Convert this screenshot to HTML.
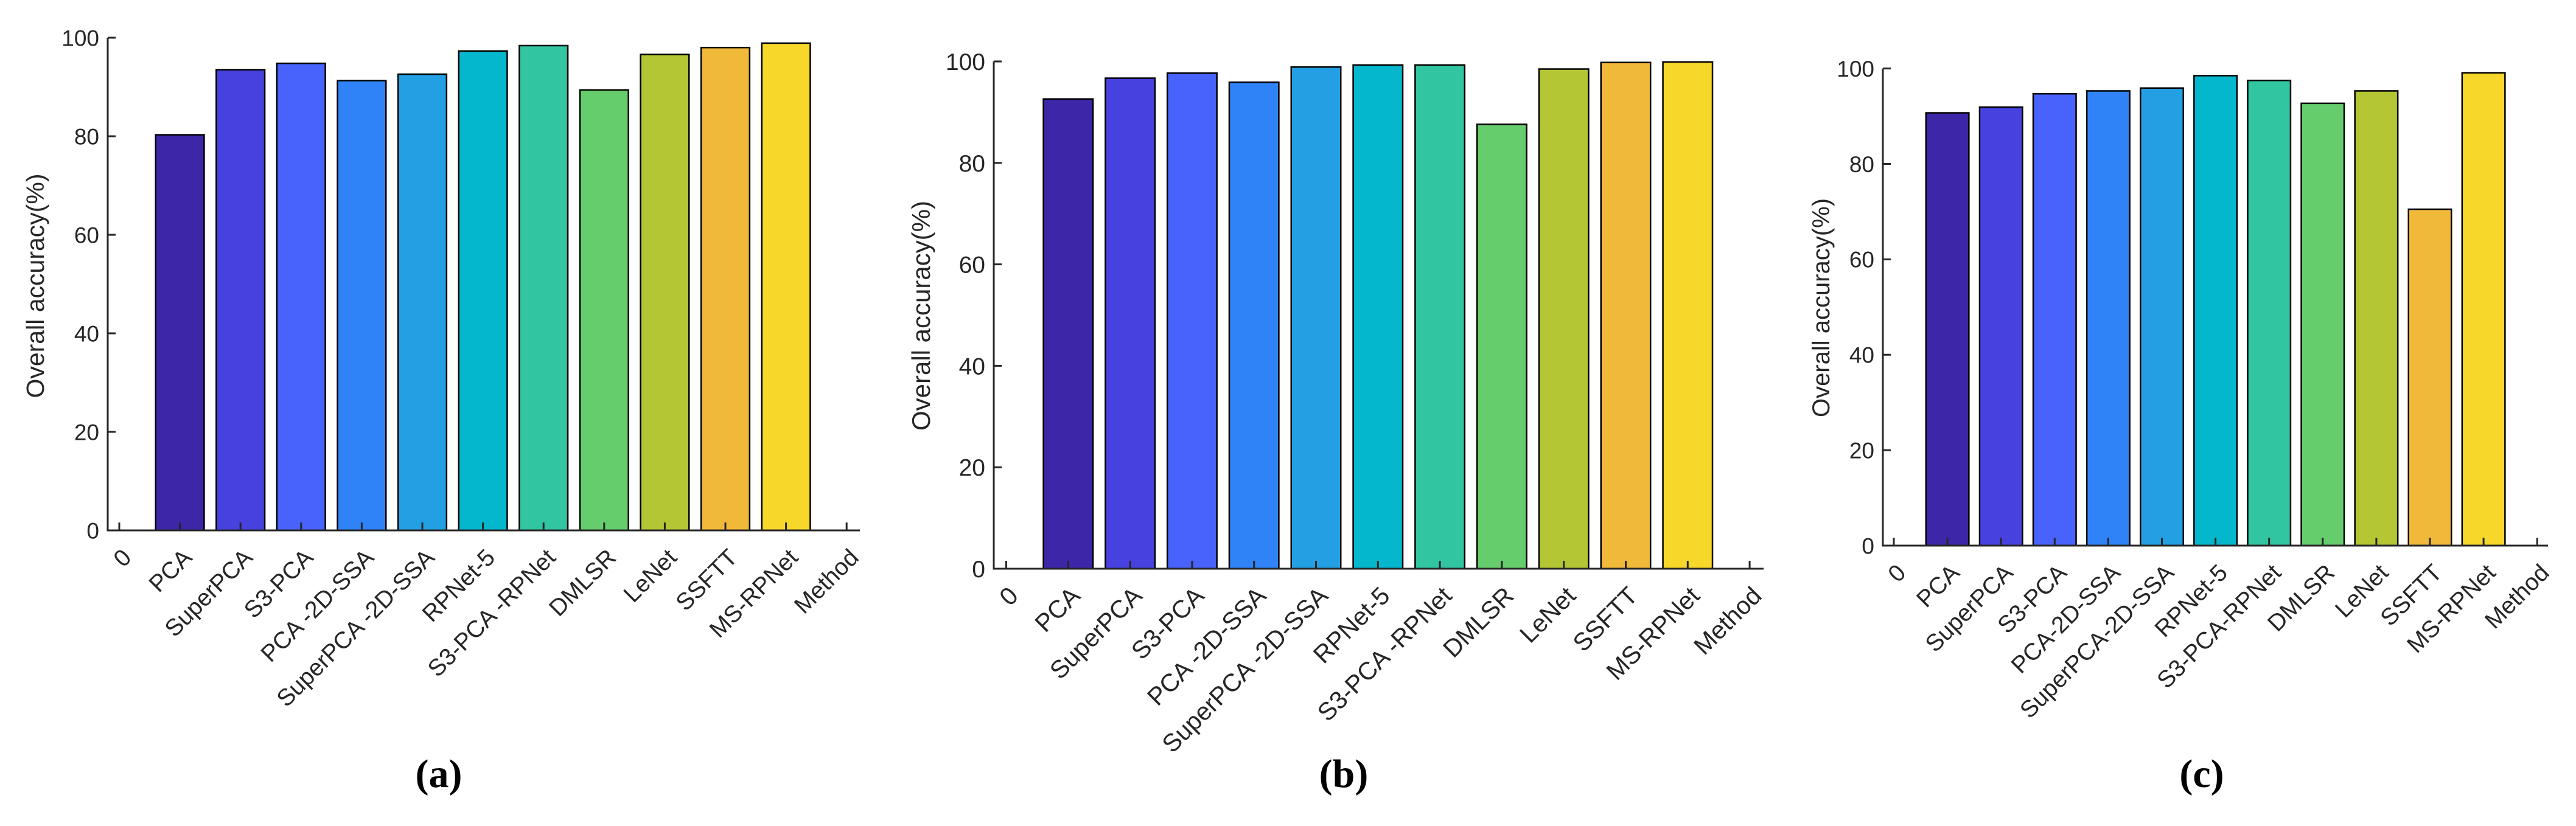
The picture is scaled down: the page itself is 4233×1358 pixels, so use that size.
<!DOCTYPE html>
<html><head><meta charset="utf-8">
<style>
html,body{margin:0;padding:0;background:#fff;}
svg{display:block;}
text{font-family:"Liberation Sans",Arial,sans-serif;fill:#262626;}
.cap{font-family:"Liberation Serif",serif;font-weight:bold;fill:#000;}
</style></head>
<body>
<svg id="fig" width="4233" height="1358" viewBox="0 0 4233 1358" xmlns="http://www.w3.org/2000/svg"></svg>
<script>
const categories = ["0","PCA","SuperPCA","S3-PCA","PCA -2D-SSA","SuperPCA -2D-SSA","RPNet-5","S3-PCA -RPNet","DMLSR","LeNet","SSFTT","MS-RPNet","Method"];
const categoriesC = ["0","PCA","SuperPCA","S3-PCA","PCA-2D-SSA","SuperPCA-2D-SSA","RPNet-5","S3-PCA-RPNet","DMLSR","LeNet","SSFTT","MS-RPNet","Method"];
const valuesA = [80.3,93.5,94.8,91.3,92.6,97.3,98.4,89.4,96.6,98.0,98.9];
const valuesB = [92.6,96.7,97.7,95.9,98.9,99.3,99.3,87.6,98.5,99.8,99.9];
const valuesC = [90.7,91.9,94.7,95.3,95.9,98.5,97.5,92.7,95.3,70.5,99.1];
const yTicks = [0,20,40,60,80,100];
const colors = ["#3e26a8","#4741e0","#4863fb","#2f83f7","#23a0e3","#04b7cd","#31c5a2","#66cd6c","#b5c634","#f1b93a","#f7d72a"];

const NS="http://www.w3.org/2000/svg";
const svg=document.getElementById('fig');
function mk(tag,attrs,parent){const e=document.createElementNS(NS,tag);for(const k in attrs)e.setAttribute(k,attrs[k]);(parent||svg).appendChild(e);return e;}

function chart(cfg){
  const g=mk('g',{});
  
  
  const xs=v=>cfg.x0+v*cfg.pitch;
  const ys=v=>cfg.y0-(v/100)*(cfg.y0-cfg.y100);
  const bw=cfg.pitch*0.8;
  cfg.values.forEach((v,i)=>{
    const r=mk('rect',{x:xs(i+1)-bw/2,y:ys(v),width:bw,height:ys(0)-ys(v),fill:colors[i],stroke:'#000','stroke-width':2.5},g);
    
    
  });
  const xa=mk('line',{x1:cfg.axL,y1:cfg.y0,x2:cfg.axR,y2:cfg.y0,stroke:'#262626','stroke-width':3},g);
  
  
  const ya=mk('line',{x1:cfg.axL,y1:cfg.y0+1.5,x2:cfg.axL,y2:cfg.y100,stroke:'#262626','stroke-width':3},g);
  
  
  yTicks.forEach(t=>{
    mk('line',{x1:cfg.axL,y1:ys(t),x2:cfg.axL+13,y2:ys(t),stroke:'#262626','stroke-width':3},g);
    const tx=mk('text',{x:cfg.axL-14,y:ys(t)+cfg.fs*0.36,'text-anchor':'end','font-size':cfg.fs},g);
    tx.textContent=t;
    
    
  });
  cfg.cats.forEach((c,i)=>{
    const x=xs(i);
    mk('line',{x1:x,y1:cfg.y0,x2:x,y2:cfg.y0-13,stroke:'#262626','stroke-width':3},g);
    const ax=x+22, ay=cfg.y0+47;
    const tx=mk('text',{x:ax,y:ay,'text-anchor':'end','font-size':cfg.lfs,transform:`rotate(-45 ${ax} ${ay})`},g);
    if(cfg.clip) tx.setAttribute('clip-path','url(#clipB)');
    tx.textContent=c;
    
    
  });
  const yl=mk('text',{x:cfg.ylx,y:cfg.yly,'text-anchor':'middle','font-size':cfg.yfs,transform:`rotate(-90 ${cfg.ylx} ${cfg.yly})`},g);
  yl.textContent='Overall accuracy(%)';
  
  
  const cap=mk('text',{x:cfg.capx,y:1294,'text-anchor':'middle','font-size':66,class:'cap'},g);
  cap.textContent='('+cfg.id+')';
  
  
}
const defs=mk('defs',{});
const cp=mk('clipPath',{id:'clipB'},defs);
mk('rect',{x:1400,y:0,width:1600,height:1177},cp);

chart({id:'a',values:valuesA,cats:categories,x0:196,pitch:99.6,y0:872,y100:62,axL:177,axR:1413,fs:37,lfs:39,yfs:41,ylx:72,yly:470,capx:721});
chart({id:'b',values:valuesB,cats:categories,x0:1653.5,pitch:101.8,y0:935,y100:101,axL:1633,axR:2898,fs:39,lfs:41,yfs:42,ylx:1528,yly:519,capx:2208,clip:true});
chart({id:'c',values:valuesC,cats:categoriesC,x0:3112,pitch:88.1,y0:897,y100:112.6,axL:3094,axR:4187,fs:37,lfs:39,yfs:40,ylx:3006,yly:506,capx:3618});
</script>
</body></html>
